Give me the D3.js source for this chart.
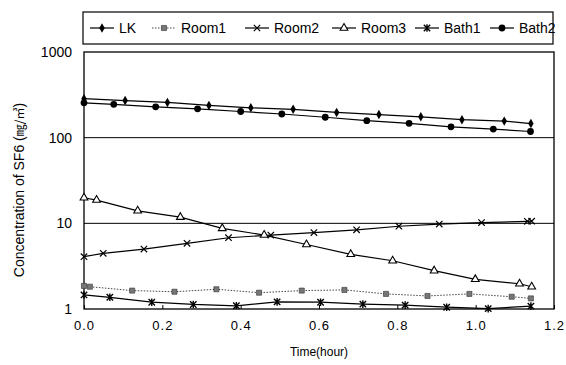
<!doctype html>
<html>
<head>
<meta charset="utf-8">
<title>SF6</title>
<script src="https://cdn.jsdelivr.net/npm/d3@7"></script>
<style>
  body { margin: 0; background: #fff; }
  text { font-family: "Liberation Sans", Arial, sans-serif; fill: #000; }
</style>
</head>
<body>
<svg width="566" height="365"></svg>
<script>
// values (time in hours, concentration in mg/m3)
var lkTime    = [0, 0.105, 0.213, 0.319, 0.426, 0.534, 0.645, 0.753, 0.860, 0.965, 1.073, 1.141];
var lkValue   = [285, 271, 258, 238, 223, 214, 197, 186, 175, 162, 156, 146];
var room1Time  = [0, 0.015, 0.123, 0.231, 0.338, 0.447, 0.556, 0.665, 0.771, 0.877, 0.984, 1.092, 1.141];
var room1Value = [1.86, 1.82, 1.64, 1.59, 1.70, 1.55, 1.64, 1.67, 1.50, 1.42, 1.50, 1.39, 1.33];
var room2Time  = [0, 0.049, 0.153, 0.263, 0.369, 0.477, 0.587, 0.696, 0.804, 0.907, 1.015, 1.132, 1.143];
var room2Value = [4.08, 4.47, 5.01, 5.84, 6.79, 7.30, 7.81, 8.40, 9.25, 9.81, 10.2, 10.55, 10.6];
var room3Time  = [0, 0.032, 0.137, 0.246, 0.353, 0.460, 0.568, 0.681, 0.788, 0.894, 0.999, 1.112, 1.143];
var room3Value = [19.9, 18.7, 14.0, 11.8, 8.74, 7.30, 5.66, 4.35, 3.66, 2.80, 2.22, 1.97, 1.82];
var bath1Time  = [0, 0.066, 0.173, 0.279, 0.389, 0.493, 0.604, 0.712, 0.820, 0.926, 1.032, 1.141];
var bath1Value = [1.46, 1.37, 1.20, 1.13, 1.09, 1.21, 1.20, 1.14, 1.11, 1.05, 1.01, 1.08];
var bath2Time  = [0, 0.076, 0.183, 0.290, 0.400, 0.505, 0.616, 0.722, 0.830, 0.937, 1.045, 1.140];
var bath2Value = [255, 245, 229, 217, 202, 189, 173, 158, 147, 134, 126, 118];

var seriesNames = ["LK", "Room1", "Room2", "Room3", "Bath1", "Bath2"];
var xTicks = [0, 0.2, 0.4, 0.6, 0.8, 1.0, 1.2];
var yTicks = [1, 10, 100, 1000];

var series = [
  { name: "LK",    t: lkTime,    v: lkValue,    marker: "diamond" },
  { name: "Room1", t: room1Time, v: room1Value, marker: "square", dotted: true },
  { name: "Room2", t: room2Time, v: room2Value, marker: "cross" },
  { name: "Room3", t: room3Time, v: room3Value, marker: "triangle" },
  { name: "Bath1", t: bath1Time, v: bath1Value, marker: "star" },
  { name: "Bath2", t: bath2Time, v: bath2Value, marker: "circle" }
];

var plotLeft = 84, plotRight = 554, plotTop = 52, plotBottom = 309;

var svg = d3.select("svg");

var x = d3.scaleLinear().domain([0, 1.2]).range([plotLeft, plotRight]);
var y = d3.scaleLog().domain([1, 1000]).range([plotBottom, plotTop]);

// horizontal grid lines at 10 and 100
svg.append("g").selectAll("line")
  .data([10, 100])
  .enter().append("line")
  .attr("x1", plotLeft).attr("x2", plotRight)
  .attr("y1", function(d) { return y(d); })
  .attr("y2", function(d) { return y(d); })
  .attr("stroke", "#000").attr("stroke-width", 1);

// plot frame
svg.append("rect")
  .attr("x", plotLeft).attr("y", plotTop)
  .attr("width", plotRight - plotLeft).attr("height", plotBottom - plotTop)
  .attr("fill", "none").attr("stroke", "#000").attr("stroke-width", 1.3);

// x axis: inward ticks, labels below
var xAxis = d3.axisBottom(x).tickValues(xTicks).tickFormat(d3.format(".1f"))
  .tickSizeInner(-4).tickSizeOuter(0).tickPadding(12);
var gx = svg.append("g").attr("transform", "translate(0," + plotBottom + ")").call(xAxis);
gx.select(".domain").remove();
gx.selectAll("text").style("font-size", "13px").style("letter-spacing", "1px");

var yAxis = d3.axisLeft(y).tickValues(yTicks).tickFormat(d3.format("d"))
  .tickSize(0).tickPadding(12);
var gy = svg.append("g").attr("transform", "translate(" + plotLeft + ",0)").call(yAxis);
gy.select(".domain").remove();
gy.selectAll("text").style("font-size", "14px");

svg.append("text")
  .attr("x", (plotLeft + plotRight) / 2).attr("y", 356)
  .attr("text-anchor", "middle").style("font-size", "12px")
  .text("Time(hour)");

var yl = svg.append("text")
  .attr("transform", "translate(24,190) rotate(-90)")
  .attr("text-anchor", "middle").style("font-size", "14px");
yl.append("tspan").text("Concentration of SF6 (");
yl.append("tspan").style("font-family", "'Noto Sans CJK KR'").style("font-size", "12px").text("㎎/㎥");
yl.append("tspan").text(")");

// marker drawing
function drawMarker(g, type) {
  if (type === "diamond") {
    g.append("path").attr("d", d3.symbol(d3.symbolDiamond, 26)()).attr("fill", "#000");
  } else if (type === "square") {
    g.append("path").attr("d", d3.symbol(d3.symbolSquare, 26)()).attr("fill", "#777").attr("stroke", "#333").attr("stroke-width", 0.6);
  } else if (type === "cross") {
    g.append("path").attr("d", "M-3.2,-3.2L3.2,3.2M-3.2,3.2L3.2,-3.2").attr("stroke", "#000").attr("stroke-width", 1.2);
  } else if (type === "triangle") {
    g.append("path").attr("d", d3.symbol(d3.symbolTriangle, 26)()).attr("fill", "#fff").attr("stroke", "#000").attr("stroke-width", 1.1);
  } else if (type === "star") {
    g.append("path").attr("d", "M-3.2,-3.2L3.2,3.2M-3.2,3.2L3.2,-3.2M0,-3.8L0,3.8").attr("stroke", "#000").attr("stroke-width", 1.4);
  } else if (type === "circle") {
    g.append("circle").attr("r", 3.4).attr("fill", "#000");
  }
}

var line = d3.line()
  .x(function(d) { return x(d[0]); })
  .y(function(d) { return y(d[1]); });

series.forEach(function(s) {
  var pts = s.t.map(function(t, i) { return [t, s.v[i]]; });
  svg.append("path")
    .attr("d", line(pts))
    .attr("fill", "none")
    .attr("stroke", s.dotted ? "#444" : "#000")
    .attr("stroke-width", s.dotted ? 1 : 1.2)
    .attr("stroke-dasharray", s.dotted ? "1.5,1.5" : null);
  pts.forEach(function(p) {
    var g = svg.append("g").attr("transform", "translate(" + x(p[0]) + "," + y(p[1]) + ")");
    drawMarker(g, s.marker);
  });
});

// legend
var lg = svg.append("g");
lg.append("rect").attr("x", 83).attr("y", 12).attr("width", 470).attr("height", 32)
  .attr("fill", "#fff").attr("stroke", "#000").attr("stroke-width", 1.2);
var legendX = [90, 152, 245, 332, 415, 490];
series.forEach(function(s, i) {
  var lx = legendX[i], ly = 28;
  lg.append("line").attr("x1", lx).attr("x2", lx + 24).attr("y1", ly).attr("y2", ly)
    .attr("stroke", s.dotted ? "#444" : "#000").attr("stroke-width", s.dotted ? 1 : 1.2)
    .attr("stroke-dasharray", s.dotted ? "1.5,1.5" : null);
  drawMarker(lg.append("g").attr("transform", "translate(" + (lx + 12) + "," + ly + ")"), s.marker);
  lg.append("text").attr("x", lx + 29).attr("y", ly + 5).style("font-size", "14px").text(seriesNames[i]);
});
</script>
</body>
</html>
